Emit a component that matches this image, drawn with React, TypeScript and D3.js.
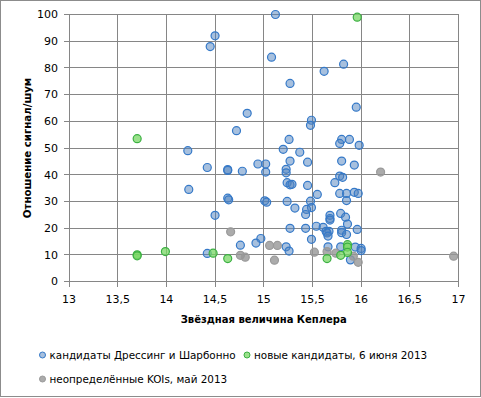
import * as d3 from "d3";

// [звёздная величина, сигнал/шум]
const dressingPoints: [number, number][] = [
  [14.5, 92], [14.45, 88], [14.72, 56.5], [14.22, 49], [14.83, 63], [15.12, 100], [15.08, 84],
  [15.82, 81.4], [15.62, 78.7], [15.27, 74.2], [15.95, 65.3], [15.49, 60.4], [15.48, 58.5],
  [15.26, 53.2], [15.8, 53.2], [15.88, 53.2], [15.78, 51.7], [15.98, 51], [15.2, 49.5],
  [15.37, 48.4], [14.42, 42.7], [14.63, 41.9], [14.63, 41.6], [14.78, 41.3], [14.94, 44],
  [15.02, 44], [15.02, 41], [15.27, 45.1], [15.45, 44.7], [15.23, 42], [15.23, 40.7],
  [15.8, 45.1], [15.93, 43.6], [15.78, 39.5], [15.81, 39], [15.73, 37], [15.24, 37],
  [15.27, 36.2], [15.29, 36.4], [15.45, 36], [15.55, 32.6], [15.78, 33], [15.85, 33],
  [15.93, 33.4], [15.97, 33], [15.85, 30.3], [14.23, 34.5], [14.63, 31.2], [14.64, 30.6],
  [15.01, 30.2], [15.03, 29.7], [15.24, 30], [15.48, 30.1], [15.49, 27.7], [15.44, 27],
  [15.32, 27.5], [15.43, 25.1], [15.79, 25.5], [15.84, 24.1], [15.68, 24.8], [15.68, 23.6],
  [15.68, 23], [15.86, 21.5], [14.5, 24.8], [15.27, 19.9], [15.43, 19.9], [15.54, 20.7],
  [15.61, 20.3], [15.64, 18.8], [15.67, 18.8], [15.65, 18.2], [15.66, 17], [15.8, 19.2],
  [15.8, 18.3], [15.85, 17.6], [15.96, 19.5], [15.49, 15.8], [14.97, 16.1], [14.92, 14.4],
  [14.76, 13.6], [15.23, 13], [15.26, 11.4], [15.66, 13], [15.79, 13], [15.94, 12.9],
  [16.0, 12.4], [16.0, 11.6], [15.89, 8.1], [14.42, 10.5],
];

const newPoints: [number, number][] = [
  [15.96, 99], [13.7, 53.5], [13.7, 10], [13.7, 9.6], [13.99, 11.2], [14.48, 10.6],
  [14.63, 8.6], [15.86, 13.8], [15.86, 12.9], [15.86, 10.9], [15.79, 9.8], [15.65, 8.6],
];

const koiPoints: [number, number][] = [
  [14.66, 18.6], [14.76, 9.8], [14.81, 9.1], [15.06, 13.5], [15.14, 13.5], [15.11, 8],
  [15.52, 11], [15.65, 11.2], [15.74, 10.6], [15.92, 9.5], [15.97, 7.2], [16.2, 41], [16.95, 9.5],
];

const xTicks = [13, 13.5, 14, 14.5, 15, 15.5, 16, 16.5, 17];
const yTicks = [0, 10, 20, 30, 40, 50, 60, 70, 80, 90, 100];

const seriesNames = [
  "кандидаты Дрессинг и Шарбонно",
  "новые кандидаты, 6 июня 2013",
  "неопределённые KOIs, май 2013",
];

const W = 481;
const H = 398;
const font = "'DejaVu Sans', Verdana, sans-serif";

export default function App() {
  const x = d3.scaleLinear([13, 17], [69, 458.5]);
  const y = d3.scaleLinear([0, 100], [281.5, 14.5]);
  const fmt = (d: number) => String(d).replace(".", ",");

  const styles = [
    { fill: "rgba(79,129,189,0.5)", stroke: "#3579c8" },
    { fill: "rgba(120,215,100,0.75)", stroke: "#3cb043" },
    { fill: "rgba(150,150,150,0.8)", stroke: "#9a9a9a" },
  ];
  const series = [dressingPoints, newPoints, koiPoints];
  const drawOrder = [0, 2, 1];

  return (
    <svg width={W} height={H} style={{ position: "absolute", left: 0, top: 0, background: "#fff" }} fontFamily={font}>
      <rect x={0.5} y={0.5} width={W - 1} height={H - 2} fill="#fff" stroke="#8c8c8c" />
      <g stroke="#868686" strokeWidth={1} shapeRendering="crispEdges">
        {yTicks.map((t) => (
          <line key={"gy" + t} x1={64} x2={x(17)} y1={y(t)} y2={y(t)} />
        ))}
        {xTicks.map((t) => (
          <line key={"gx" + t} x1={x(t)} x2={x(t)} y1={y(100)} y2={y(0) + 5} />
        ))}
      </g>
      <g fontSize={11} fill="#000">
        {yTicks.map((t) => (
          <text key={"ly" + t} x={58} y={y(t)} dy="0.35em" textAnchor="end">{t}</text>
        ))}
        {xTicks.map((t) => (
          <text key={"lx" + t} x={x(t)} y={303} textAnchor="middle">{fmt(t)}</text>
        ))}
      </g>
      <text x={(x(13) + x(17)) / 2} y={323} textAnchor="middle" fontSize={10} fontWeight="bold">
        Звёздная величина Кеплера
      </text>
      <text transform={`translate(31,${(y(0) + y(100)) / 2}) rotate(-90)`} textAnchor="middle" fontSize={10.2} fontWeight="bold">
        Отношение сигнал/шум
      </text>
      {drawOrder.map((si) => (
        <g key={"s" + si} fill={styles[si].fill} stroke={styles[si].stroke} strokeWidth={1.2}>
          {series[si].map((d, i) => (
            <circle key={i} cx={x(d[0])} cy={y(d[1])} r={4} />
          ))}
        </g>
      ))}
      <g fontSize={10.4}>
        {[
          { si: 0, lx: 42.5, ly: 355 },
          { si: 1, lx: 247, ly: 355 },
          { si: 2, lx: 42.5, ly: 379 },
        ].map((l) => (
          <g key={"lg" + l.si}>
            <circle cx={l.lx} cy={l.ly} r={3} fill={styles[l.si].fill} stroke={styles[l.si].stroke} strokeWidth={1} />
            <text x={l.lx + 7} y={l.ly} dy="0.35em">{seriesNames[l.si]}</text>
          </g>
        ))}
      </g>
    </svg>
  );
}
